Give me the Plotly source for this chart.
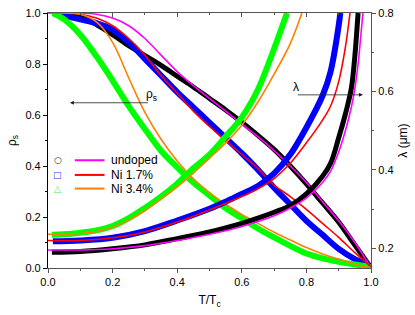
import plotly.graph_objects as go

# ---------------- data ----------------
# superfluid density rho_s vs T/Tc (left axis)
rho_T_fit = [0, 0.05, 0.1, 0.15, 0.2, 0.25, 0.3, 0.35, 0.4, 0.45, 0.5, 0.55, 0.6, 0.65, 0.7, 0.75, 0.8, 0.85, 0.9, 0.95, 1.0]
rho_T_data = [0.015, 0.05, 0.1, 0.15, 0.2, 0.25, 0.3, 0.35, 0.4, 0.45, 0.5, 0.55, 0.6, 0.65, 0.7, 0.75, 0.8, 0.85, 0.9, 0.95, 0.995]

rho_undoped_data = [1.0, 0.995, 0.985, 0.955, 0.915, 0.872, 0.833, 0.795, 0.752, 0.71, 0.665, 0.62, 0.572, 0.52, 0.465, 0.4, 0.33, 0.255, 0.18, 0.09, 0.01]
rho_undoped_fit = [1.0, 1.0, 1.0, 0.995, 0.98, 0.95, 0.9, 0.835, 0.77, 0.715, 0.665, 0.615, 0.565, 0.515, 0.46, 0.4, 0.335, 0.26, 0.185, 0.1, 0.0]
rho_ni17_data = [1.0, 0.99, 0.975, 0.96, 0.935, 0.885, 0.82, 0.755, 0.69, 0.63, 0.57, 0.51, 0.45, 0.385, 0.315, 0.25, 0.185, 0.13, 0.075, 0.035, 0.01]
rho_ni17_fit = [1.0, 1.0, 0.995, 0.98, 0.95, 0.9, 0.835, 0.755, 0.685, 0.615, 0.555, 0.5, 0.445, 0.39, 0.325, 0.28, 0.23, 0.175, 0.12, 0.06, 0.005]
rho_ni34_data = [1.0, 0.975, 0.915, 0.83, 0.735, 0.635, 0.545, 0.46, 0.395, 0.335, 0.285, 0.235, 0.195, 0.155, 0.12, 0.087, 0.057, 0.038, 0.024, 0.014, 0.005]
rho_ni34_fit = [1.0, 1.0, 0.995, 0.965, 0.885, 0.745, 0.61, 0.505, 0.42, 0.35, 0.295, 0.25, 0.21, 0.175, 0.14, 0.11, 0.08, 0.055, 0.035, 0.015, 0.0]

# penetration depth lambda (um) vs T/Tc (right axis)
lam_undoped_data_T = [0.012, 0.1, 0.2, 0.3, 0.4, 0.5, 0.6, 0.65, 0.7, 0.75, 0.8, 0.85, 0.875, 0.9, 0.92, 0.93, 0.94, 0.95, 0.96]
lam_undoped_data = [0.190, 0.192, 0.199, 0.209, 0.225, 0.242, 0.264, 0.277, 0.292, 0.309, 0.339, 0.384, 0.417, 0.482, 0.540, 0.573, 0.612, 0.690, 0.800]
lam_undoped_fit_T = [0, 0.1, 0.2, 0.3, 0.4, 0.5, 0.6, 0.7, 0.75, 0.8, 0.85, 0.875, 0.9, 0.92, 0.94, 0.95, 0.96, 0.97, 0.975]
lam_undoped_fit = [0.196, 0.196, 0.199, 0.207, 0.220, 0.236, 0.256, 0.283, 0.303, 0.329, 0.368, 0.397, 0.446, 0.498, 0.563, 0.608, 0.670, 0.755, 0.800]

lam_ni17_data_T = [0.015, 0.1, 0.2, 0.3, 0.4, 0.5, 0.55, 0.6, 0.65, 0.7, 0.75, 0.8, 0.85, 0.875, 0.9, 0.905]
lam_ni17_data = [0.218, 0.220, 0.227, 0.244, 0.271, 0.301, 0.319, 0.339, 0.359, 0.391, 0.439, 0.508, 0.589, 0.651, 0.768, 0.800]
lam_ni17_fit_T = [0, 0.1, 0.2, 0.3, 0.4, 0.5, 0.6, 0.65, 0.7, 0.75, 0.8, 0.85, 0.875, 0.9, 0.92, 0.935]
lam_ni17_fit = [0.220, 0.220, 0.227, 0.242, 0.267, 0.298, 0.332, 0.352, 0.378, 0.417, 0.469, 0.527, 0.563, 0.625, 0.709, 0.800]

lam_ni34_data_T = [0.012, 0.05, 0.1, 0.15, 0.2, 0.25, 0.3, 0.35, 0.4, 0.45, 0.5, 0.55, 0.6, 0.65, 0.7, 0.74]
lam_ni34_data = [0.2345, 0.236, 0.240, 0.246, 0.257, 0.277, 0.303, 0.332, 0.365, 0.404, 0.439, 0.485, 0.534, 0.605, 0.709, 0.800]
lam_ni34_fit_T = [0, 0.05, 0.1, 0.15, 0.2, 0.25, 0.3, 0.35, 0.4, 0.45, 0.5, 0.55, 0.6, 0.65, 0.7, 0.75, 0.786]
lam_ni34_fit = [0.236, 0.236, 0.238, 0.243, 0.254, 0.272, 0.296, 0.326, 0.357, 0.392, 0.430, 0.469, 0.514, 0.573, 0.644, 0.722, 0.800]

legend_labels = ["undoped", "Ni 1.7%", "Ni 3.4%"]
legend_symbols = ["○", "□", "△"]

# ---------------- styles ----------------
DATA_COLORS = ["#000000", "#0000FF", "#00FF00"]
FIT_COLORS = ["#FF00FF", "#FF0000", "#FF8000"]
SYMBOL_COLORS = ["#333333", "#3333FF", "#44EE44"]
DATA_WIDTHS = [5, 6, 6]
FONT = "Liberation Sans, Arial, sans-serif"

fig = go.Figure()

rho_data = [rho_undoped_data, rho_ni17_data, rho_ni34_data]
rho_fit = [rho_undoped_fit, rho_ni17_fit, rho_ni34_fit]
lam_data = [(lam_undoped_data_T, lam_undoped_data), (lam_ni17_data_T, lam_ni17_data), (lam_ni34_data_T, lam_ni34_data)]
lam_fit = [(lam_undoped_fit_T, lam_undoped_fit), (lam_ni17_fit_T, lam_ni17_fit), (lam_ni34_fit_T, lam_ni34_fit)]

# data bands
for i in range(3):
    fig.add_trace(go.Scatter(x=rho_T_data, y=rho_data[i], mode="lines",
                             line=dict(color=DATA_COLORS[i], width=DATA_WIDTHS[i], shape="spline"),
                             showlegend=False, hoverinfo="skip"))
    fig.add_trace(go.Scatter(x=lam_data[i][0], y=lam_data[i][1], mode="lines", yaxis="y2",
                             line=dict(color=DATA_COLORS[i], width=DATA_WIDTHS[i], shape="spline"),
                             showlegend=False, hoverinfo="skip"))
# fits
for i in range(3):
    fig.add_trace(go.Scatter(x=rho_T_fit, y=rho_fit[i], mode="lines",
                             line=dict(color=FIT_COLORS[i], width=1.6, shape="spline"),
                             showlegend=False, hoverinfo="skip"))
    fig.add_trace(go.Scatter(x=lam_fit[i][0], y=lam_fit[i][1], mode="lines", yaxis="y2",
                             line=dict(color=FIT_COLORS[i], width=1.6, shape="spline"),
                             showlegend=False, hoverinfo="skip"))
# empty trace to carry the top mirror axis
fig.add_trace(go.Scatter(x=[], y=[], xaxis="x2", showlegend=False, hoverinfo="skip"))

axis_font = dict(family=FONT, size=11, color="#000000")

fig.update_layout(
    width=415, height=315,
    margin=dict(l=48, r=42, t=7, b=47),
    paper_bgcolor="white", plot_bgcolor="white",
    font=dict(family=FONT, size=12, color="#000000"),
    xaxis=dict(range=[0, 1], tickvals=[0, 0.2, 0.4, 0.6, 0.8, 1.0],
               ticktext=["0.0", "0.2", "0.4", "0.6", "0.8", "1.0"],
               ticks="outside", ticklen=4, tickcolor="#555555",
               minor=dict(ticks="outside", ticklen=2, dtick=0.1, tick0=0, tickcolor="#555555"),
               showline=True, linecolor="#555555", linewidth=1.2,
               showgrid=False, zeroline=False, tickfont=axis_font,
               title=dict(text="T/T<sub>c</sub>", font=dict(family=FONT, size=12), standoff=8)),
    xaxis2=dict(range=[0, 1], overlaying="x", side="top", anchor="y",
                tickvals=[0.2, 0.4, 0.6, 0.8], ticks="inside", ticklen=4, tickcolor="#555555",
                minor=dict(ticks="inside", ticklen=2, tickvals=[0.1, 0.3, 0.5, 0.7, 0.9], tickcolor="#555555"),
                showticklabels=False, showline=True, linecolor="#555555", linewidth=1.2,
                showgrid=False, zeroline=False),
    yaxis=dict(range=[0, 1], tickvals=[0, 0.2, 0.4, 0.6, 0.8, 1.0],
               ticktext=["0.0", "0.2", "0.4", "0.6", "0.8", "1.0"],
               ticks="outside", ticklen=4, tickcolor="#000000",
               minor=dict(ticks="outside", ticklen=2, dtick=0.1, tick0=0, tickcolor="#000000"),
               showline=True, linecolor="#000000", linewidth=1.2,
               showgrid=False, zeroline=False, tickfont=axis_font,
               title=dict(text="ρ<sub>s</sub>", font=dict(family=FONT, size=12), standoff=6)),
    yaxis2=dict(range=[0.15, 0.8], overlaying="y", side="right", anchor="x",
                tickvals=[0.2, 0.4, 0.6, 0.8], ticktext=["0.2", "0.4", "0.6", "0.8"],
                ticks="outside", ticklen=4, tickcolor="#555555",
                minor=dict(ticks="outside", ticklen=2, tickvals=[0.3, 0.5, 0.7], tickcolor="#555555"),
                showline=True, linecolor="#555555", linewidth=1.2,
                showgrid=False, zeroline=False, tickfont=axis_font,
                title=dict(text="λ (μm)", font=dict(family=FONT, size=12), standoff=6)),
)

# arrows and curve labels
fig.add_annotation(x=0.068, y=0.648, ax=0.314, ay=0.648, xref="x", yref="y", axref="x", ayref="y",
                   text="", showarrow=True, arrowhead=2, arrowsize=1, arrowwidth=0.8, arrowcolor="#222222")
fig.add_annotation(x=0.32, y=0.68, xref="x", yref="y", text="ρ<sub>s</sub>", showarrow=False,
                   font=dict(family=FONT, size=12), xanchor="center", yanchor="middle")
fig.add_annotation(x=0.975, y=0.679, ax=0.769, ay=0.679, xref="x", yref="y", axref="x", ayref="y",
                   text="", showarrow=True, arrowhead=2, arrowsize=1, arrowwidth=0.8, arrowcolor="#222222")
fig.add_annotation(x=0.768, y=0.71, xref="x", yref="y", text="λ", showarrow=False,
                   font=dict(family=FONT, size=12), xanchor="center", yanchor="middle")

# hand-made legend
legend_y = [0.4226, 0.365, 0.3115]
for i in range(3):
    fig.add_annotation(x=0.03, y=legend_y[i], xref="paper", yref="paper", text=legend_symbols[i],
                       showarrow=False, font=dict(family="DejaVu Sans", size=9, color=SYMBOL_COLORS[i]),
                       xanchor="center", yanchor="middle")
    fig.add_shape(type="line", xref="paper", yref="paper", x0=0.083, x1=0.175,
                  y0=legend_y[i], y1=legend_y[i], line=dict(color=FIT_COLORS[i], width=2))
    fig.add_annotation(x=0.19, y=legend_y[i], xref="paper", yref="paper", text=legend_labels[i],
                       showarrow=False, font=dict(family=FONT, size=12, color="#000000"),
                       xanchor="left", yanchor="middle")

fig.write_html("out.html", config={"displayModeBar": False},
               post_script="document.body.style.margin='0px';document.body.style.overflow='hidden';")
